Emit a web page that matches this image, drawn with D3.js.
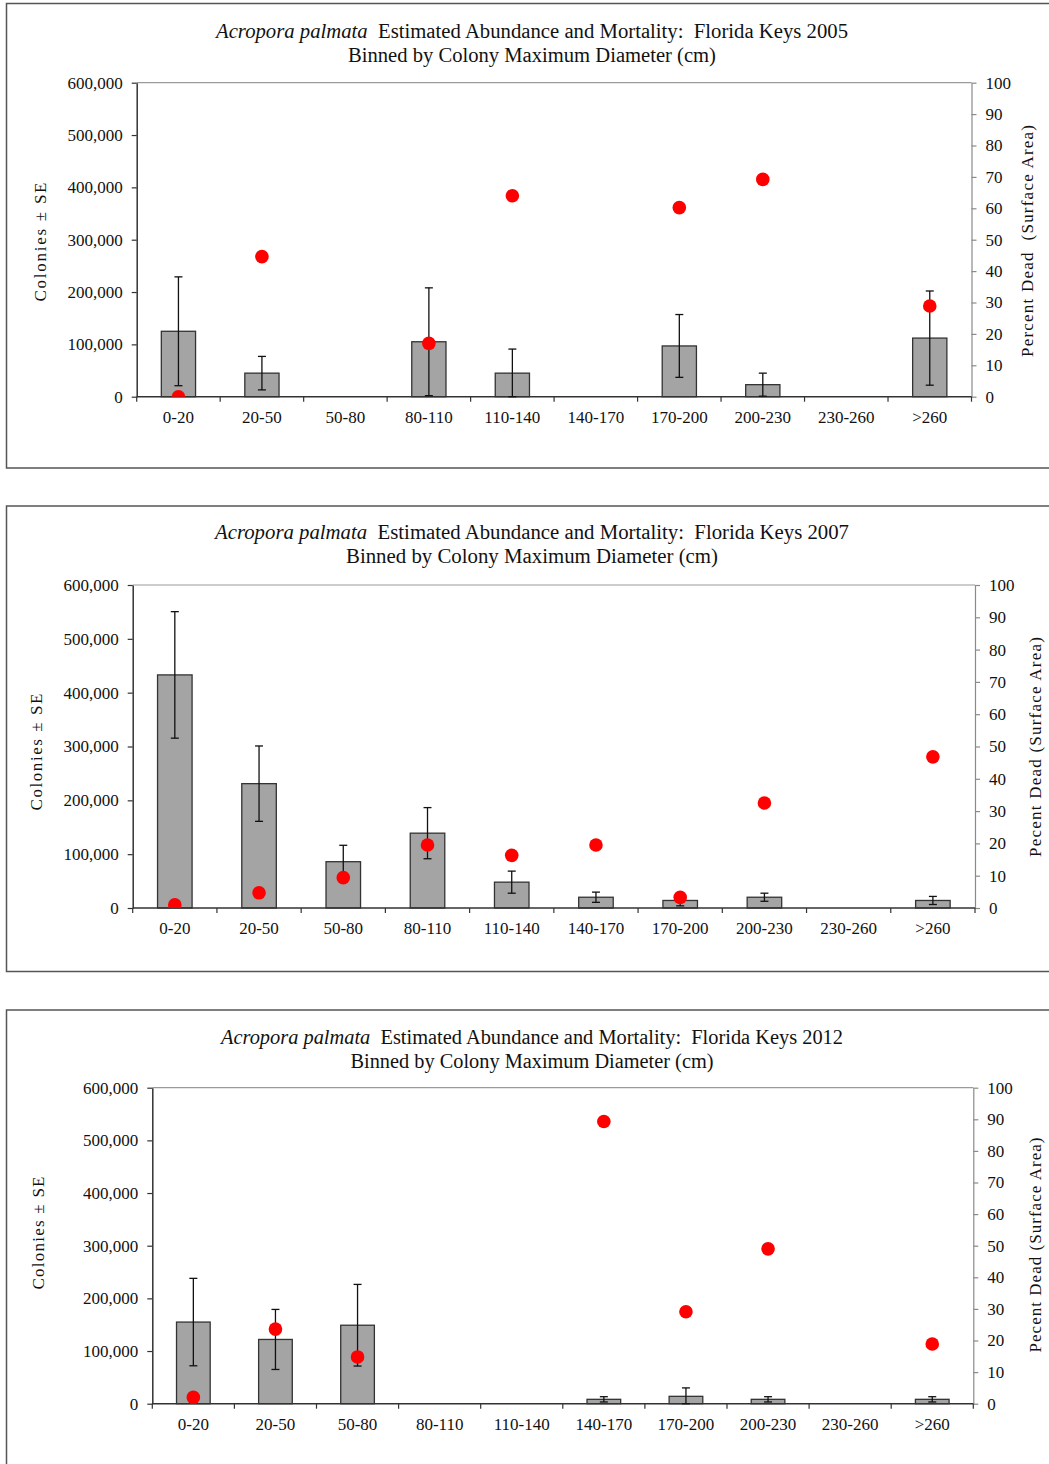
<!DOCTYPE html>
<html>
<head>
<meta charset="utf-8">
<script src="https://cdn.jsdelivr.net/npm/d3@7"></script>
<style>
  html, body { margin: 0; padding: 0; background: #fff; }
  svg { display: block; }
  text { font-family: "Liberation Serif", "Times New Roman", serif; fill: #111; }
</style>
</head>
<body>
<svg id="chart" width="1049" height="1464"></svg>
<script>
// Size classes (colony maximum diameter, cm)
const categories = ["0-20", "20-50", "50-80", "80-110", "110-140", "140-170", "170-200", "200-230", "230-260", ">260"];

// 2005 survey
const colonies2005 = [125000, 45000, 0, 105000, 45000, 0, 97000, 23000, 0, 112000];
const se2005       = [104000, 32000, 0, 103000, 46000, 0, 60000, 22000, 0, 90000];
const dead2005     = [0, 44.6, null, 17, 64, null, 60.2, 69.2, null, 28.9];

// 2007 survey
const colonies2007 = [433000, 231000, 86000, 139000, 48000, 20000, 14000, 20000, 0, 14000];
const se2007       = [117500, 70000, 30500, 47500, 20500, 9500, 10000, 7500, 0, 7500];
const dead2007     = [1, 4.7, 9.4, 19.5, 16.3, 19.5, 3.3, 32.5, null, 46.8];

// 2012 survey
const colonies2012 = [155000, 122000, 149000, 0, 0, 8300, 14000, 8300, 0, 8300];
const se2012       = [83000, 57000, 77500, 0, 0, 5000, 16000, 5000, 0, 5000];
const dead2012     = [2, 23.6, 14.8, null, null, 89.3, 29.1, 49, null, 18.9];

const colonyTicks = [0, 100000, 200000, 300000, 400000, 500000, 600000];
const deadTicks = [0, 10, 20, 30, 40, 50, 60, 70, 80, 90, 100];

const years = ["2005", "2007", "2012"];
const leftLabel = "Colonies \u00B1 SE";
const rightLabels = ["Percent Dead  (Surface Area)", "Pecent Dead (Surface Area)", "Pecent Dead (Surface Area)"];

const svg = d3.select("#chart");
const fmt = d3.format(",");

const panels = [
  { colonies: colonies2005, se: se2005, dead: dead2005,
    frame: [6.5, 3.5, 1100, 464.5], plot: { l: 136.7, r: 971.5, t: 82.7, b: 396.7 },
    titleY: 38, title2Y: 62, titleW: 632, title2W: 368,
    leftX: 40, leftLen: 119, rightX: 1027, rightLen: 232, rightCY: 241, leftCY: 242 },
  { colonies: colonies2007, se: se2007, dead: dead2007,
    frame: [6.5, 506, 1100, 465.5], plot: { l: 132.7, r: 975, t: 585, b: 908 },
    titleY: 539, title2Y: 563, titleW: 634, title2W: 372,
    leftX: 36, leftLen: 117, rightX: 1035, rightLen: 220, rightCY: 747, leftCY: 752 },
  { colonies: colonies2012, se: se2012, dead: dead2012,
    frame: [6.5, 1010, 1100, 500], plot: { l: 152.3, r: 973.3, t: 1087.7, b: 1403.7 },
    titleY: 1044, title2Y: 1068, titleW: 622, title2W: 363,
    leftX: 38, leftLen: 113, rightX: 1035, rightLen: 215, rightCY: 1245, leftCY: 1233 }
];

panels.forEach((p, i) => {
  const g = svg.append("g");
  const { l, r, t, b } = p.plot;

  // outer frame
  g.append("rect")
    .attr("x", p.frame[0]).attr("y", p.frame[1])
    .attr("width", p.frame[2]).attr("height", p.frame[3])
    .attr("fill", "none").attr("stroke", "#555").attr("stroke-width", 1.5);

  // titles
  const cx = 532;
  const t1 = g.append("text").attr("x", cx).attr("y", p.titleY)
    .attr("text-anchor", "middle").attr("font-size", 20)
    .attr("textLength", p.titleW).attr("lengthAdjust", "spacingAndGlyphs");
  t1.append("tspan").attr("font-style", "italic").text("Acropora palmata");
  t1.append("tspan").text("  Estimated Abundance and Mortality:  Florida Keys " + years[i]);
  t1.attr("xml:space", "preserve").style("white-space", "pre");

  g.append("text").attr("x", cx).attr("y", p.title2Y)
    .attr("text-anchor", "middle").attr("font-size", 20)
    .attr("textLength", p.title2W).attr("lengthAdjust", "spacingAndGlyphs")
    .text("Binned by Colony Maximum Diameter (cm)");

  // scales
  const x = d3.scaleBand().domain(categories).range([l, r]).padding(0);
  const y = d3.scaleLinear().domain([0, 600000]).range([b, t]);
  const y2 = d3.scaleLinear().domain([0, 100]).range([b, t]);

  // top border of plot area
  g.append("line").attr("x1", l).attr("x2", r).attr("y1", t).attr("y2", t)
    .attr("stroke", "#9a9a9a").attr("stroke-width", 1.2);

  // left axis
  const la = g.append("g").attr("transform", `translate(${l},0)`)
    .call(d3.axisLeft(y).tickValues(colonyTicks).tickFormat(fmt).tickSize(5).tickPadding(9).tickSizeOuter(0));
  la.select(".domain").attr("stroke", "#333").attr("stroke-width", 1.5);
  la.selectAll(".tick line").attr("stroke", "#333").attr("stroke-width", 1.2);
  la.selectAll(".tick text").attr("font-family", "Liberation Serif").attr("font-size", 17).attr("fill", "#111");

  // right axis
  const ra = g.append("g").attr("transform", `translate(${r},0)`)
    .call(d3.axisRight(y2).tickValues(deadTicks).tickSize(5).tickPadding(9).tickSizeOuter(0));
  ra.select(".domain").attr("stroke", "#8a8a8a").attr("stroke-width", 1.2);
  ra.selectAll(".tick line").attr("stroke", "#8a8a8a").attr("stroke-width", 1.2);
  ra.selectAll(".tick text").attr("font-family", "Liberation Serif").attr("font-size", 17).attr("fill", "#111");

  // bars
  const bw = x.bandwidth() * 0.41;
  const rows = categories.map((c, k) => ({ c, v: p.colonies[k], se: p.se[k], d: p.dead[k] }));
  g.append("g").selectAll("rect").data(rows).join("rect")
    .attr("x", d => x(d.c) + x.bandwidth() / 2 - bw / 2)
    .attr("y", d => y(d.v))
    .attr("width", bw)
    .attr("height", d => y(0) - y(d.v))
    .attr("fill", "#a4a4a4").attr("stroke", "#333").attr("stroke-width", 1.3);

  // bottom axis with band-boundary ticks
  g.append("line").attr("x1", l).attr("x2", r).attr("y1", b).attr("y2", b)
    .attr("stroke", "#333").attr("stroke-width", 1.6);
  const bounds = categories.map(c => x(c)).concat([r]);
  g.append("g").selectAll("line").data(bounds).join("line")
    .attr("x1", d => d).attr("x2", d => d).attr("y1", b).attr("y2", b + 5)
    .attr("stroke", "#333").attr("stroke-width", 1.2);
  g.append("g").selectAll("text").data(categories).join("text")
    .attr("x", d => x(d) + x.bandwidth() / 2).attr("y", b + 26)
    .attr("text-anchor", "middle").attr("font-size", 17).text(d => d);

  // error bars
  const eb = g.append("g").attr("stroke", "#111").attr("stroke-width", 1.3);
  rows.filter(d => d.se > 0).forEach(d => {
    const cxm = x(d.c) + x.bandwidth() / 2;
    const hi = y(d.v + d.se), lo = y(Math.max(0, d.v - d.se));
    eb.append("line").attr("x1", cxm).attr("x2", cxm).attr("y1", hi).attr("y2", lo);
    eb.append("line").attr("x1", cxm - 4).attr("x2", cxm + 4).attr("y1", hi).attr("y2", hi);
    eb.append("line").attr("x1", cxm - 4).attr("x2", cxm + 4).attr("y1", lo).attr("y2", lo);
  });

  // percent dead points, clipped to the plot area
  const clipId = "clip" + i;
  g.append("clipPath").attr("id", clipId).append("rect")
    .attr("x", l).attr("y", t).attr("width", r - l).attr("height", b - t);
  g.append("g").attr("clip-path", `url(#${clipId})`)
    .selectAll("circle").data(rows.filter(d => d.d !== null)).join("circle")
    .attr("cx", d => x(d.c) + x.bandwidth() / 2)
    .attr("cy", d => y2(d.d))
    .attr("r", 6.8)
    .attr("fill", "#ff0000");

  // axis titles
  g.append("text")
    .attr("transform", `translate(${p.leftX},${p.leftCY}) rotate(-90)`)
    .attr("text-anchor", "middle").attr("dominant-baseline", "central")
    .attr("font-size", 17)
    .attr("textLength", p.leftLen).attr("lengthAdjust", "spacing")
    .text(leftLabel);
  g.append("text")
    .attr("transform", `translate(${p.rightX},${p.rightCY}) rotate(-90)`)
    .attr("text-anchor", "middle").attr("dominant-baseline", "central")
    .attr("font-size", 17)
    .attr("textLength", p.rightLen).attr("lengthAdjust", "spacing")
    .style("white-space", "pre")
    .text(rightLabels[i]);
});
</script>
</body>
</html>
